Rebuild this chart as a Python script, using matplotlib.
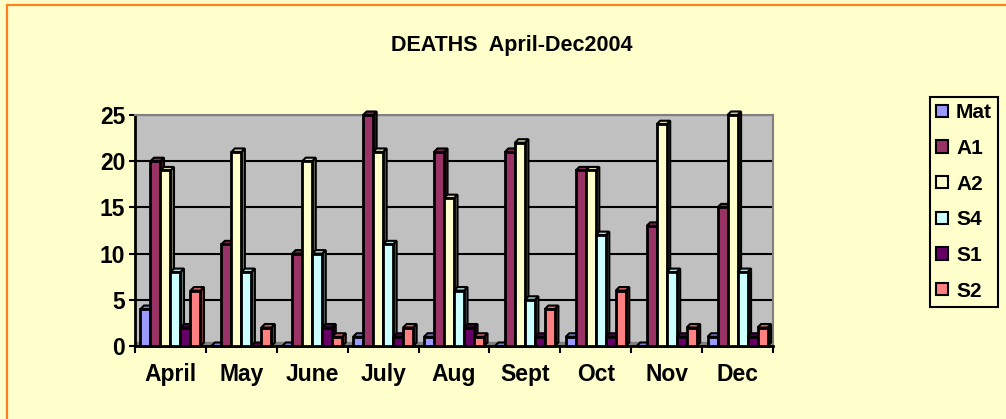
import matplotlib
matplotlib.use('Agg')
import matplotlib.pyplot as plt
from matplotlib.patches import Polygon, Rectangle, Patch
from matplotlib.colors import to_rgb
import numpy as np

months = ['April', 'May', 'June', 'July', 'Aug', 'Sept', 'Oct', 'Nov', 'Dec']
series_names = ['Mat', 'A1', 'A2', 'S4', 'S1', 'S2']
mat = [4, 0, 0, 1, 1, 0, 1, 0, 1]
a1 = [20, 11, 10, 25, 21, 21, 19, 13, 15]
a2 = [19, 21, 20, 21, 16, 22, 19, 24, 25]
s4 = [8, 8, 10, 11, 6, 5, 12, 8, 8]
s1 = [2, 0, 2, 1, 2, 1, 1, 1, 1]
s2 = [6, 2, 1, 2, 1, 4, 6, 2, 2]
colors = ['#9999FF', '#993366', '#FFFFCC', '#CCFFFF', '#660066', '#FF8080']
yticks = [0, 5, 10, 15, 20, 25]


def shade(c, f):
    return tuple(v * f for v in to_rgb(c))


def main():
    plt.rcParams['font.family'] = ['Liberation Sans', 'DejaVu Sans']
    plt.rcParams['font.weight'] = 'bold'

    fig = plt.figure(figsize=(10.06, 4.19), dpi=100)
    fig.patch.set_facecolor('#FFFFCC')
    # orange chart border, only top and left edges fall inside the picture
    fig.patches.append(Rectangle((6.5 / 1006, -0.1), 1.2, 1.089,
                                 transform=fig.transFigure, fill=False,
                                 edgecolor='#FF7F20', lw=1.6))

    ax = fig.add_axes([135 / 1006, 73 / 419, 638 / 1006, 231 / 419])
    ax.set_facecolor('#C0C0C0')

    series = [mat, a1, a2, s4, s1, s2]
    n = len(months)
    w = 0.141
    dx = 0.05
    dy = 0.38
    x0 = np.arange(n)

    ax.fill_between([-0.5, n - 0.5], 0, dy, color='#808080', zorder=1.5)

    for j, (vals, col) in enumerate(zip(series, colors)):
        xs = x0 + (j - 2.5) * w
        z = 3 + j
        ax.bar(xs, vals, w, color=col, edgecolor='black', lw=2,
               zorder=z + 0.5, clip_on=False)
        for x, h in zip(xs, vals):
            r = x + w / 2
            l = x - w / 2
            side = Polygon([(r, 0), (r + dx, dy), (r + dx, h + dy), (r, h)],
                           closed=True, facecolor=shade(col, 0.5),
                           edgecolor='black', lw=1.5, zorder=z, clip_on=False)
            top = Polygon([(l, h), (l + dx, h + dy), (r + dx, h + dy), (r, h)],
                          closed=True, facecolor=shade(col, 0.85),
                          edgecolor='black', lw=1.5, zorder=z, clip_on=False)
            ax.add_patch(side)
            ax.add_patch(top)

    ax.set_xlim(-0.5, n - 0.5)
    ax.set_ylim(0, 25)
    ax.set_yticks(yticks)
    ax.yaxis.grid(True, color='black', lw=1.5)
    ax.set_axisbelow(True)

    ax.set_xticks(np.arange(n + 1) - 0.5)
    ax.set_xticklabels([])
    ax.set_xticks(x0, minor=True)
    ax.set_xticklabels(months, minor=True, fontsize=16.5, fontweight='bold')
    ax.tick_params(axis='x', which='major', length=5, width=1.5, direction='out')
    ax.tick_params(axis='x', which='minor', length=0, pad=12)
    ax.tick_params(axis='y', length=4, width=1.5, pad=3, labelsize=16.5)

    for s in ['left', 'bottom']:
        ax.spines[s].set_color('black')
        ax.spines[s].set_linewidth(2)
    for s in ['top', 'right']:
        ax.spines[s].set_color('#808080')
        ax.spines[s].set_linewidth(1.5)

    fig.text(512 / 1006, 1 - 45 / 419, 'DEATHS  April-Dec2004', ha='center',
             va='center', fontsize=15.5, fontweight='bold')

    handles = [Patch(facecolor=c, edgecolor='black', lw=1.5) for c in colors]
    leg = fig.legend(handles, series_names, loc='upper left',
                     bbox_to_anchor=(930 / 1006, 1 - 97 / 419),
                     borderaxespad=0, fancybox=False, shadow=False,
                     prop={'size': 15, 'weight': 'bold'},
                     handlelength=0.55, handleheight=0.55, handletextpad=0.4,
                     borderpad=0.3, labelspacing=0.8)
    leg.get_frame().set_edgecolor('black')
    leg.get_frame().set_linewidth(1.5)
    leg.get_frame().set_facecolor('#FFFFCC')
    leg.get_frame().set_alpha(1)

    fig.savefig('out.png', dpi=100, facecolor=fig.get_facecolor())


if __name__ == "__main__":
    main()
